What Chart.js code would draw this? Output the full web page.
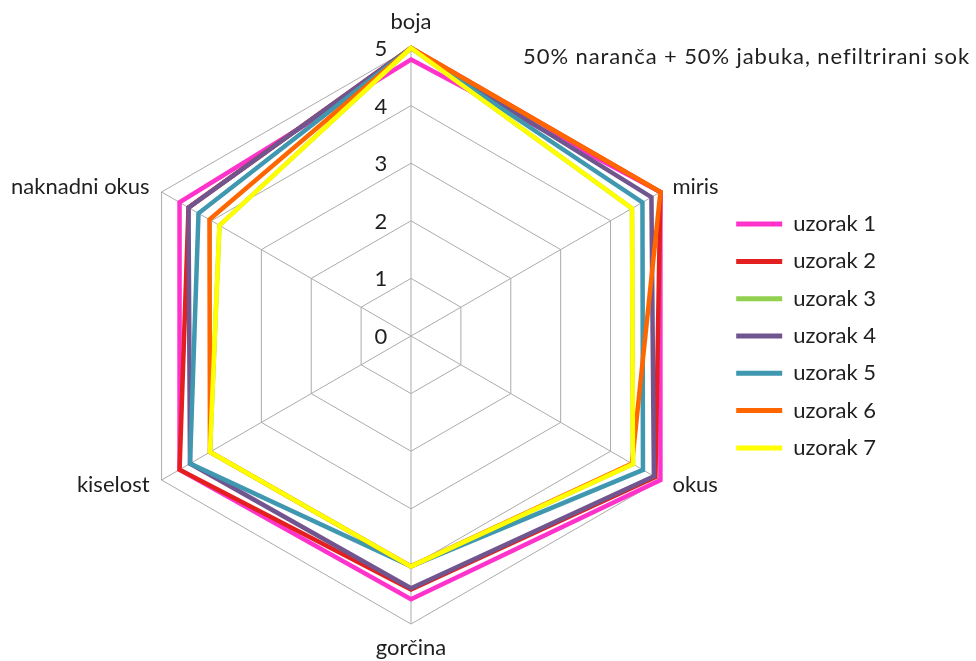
<!DOCTYPE html>
<html>
<head>
<meta charset="utf-8">
<script src="https://cdn.jsdelivr.net/npm/chart.js@4.4.1/dist/chart.umd.min.js"></script>
<style>
  html, body { margin: 0; padding: 0; background: #ffffff; }
  #wrap { position: relative; width: 976px; height: 661px; }
</style>
</head>
<body>
<div id="wrap"><canvas id="c" width="976" height="661"></canvas></div>
<script>
const chartTitle = '50% naranča + 50% jabuka, nefiltrirani sok';
const categories = ['boja', 'miris', 'okus', 'gorčina', 'kiselost', 'naknadni okus'];
const seriesNames = ['uzorak 1', 'uzorak 2', 'uzorak 3', 'uzorak 4', 'uzorak 5', 'uzorak 6', 'uzorak 7'];
const uzorak1 = [4.8, 5.0, 5.0, 4.57, 4.64, 4.64];
const uzorak2 = [5.0, 5.0, 4.9, 4.4, 4.64, 4.46];
const uzorak3 = [5.0, 4.43, 4.45, 4.0, 4.03, 3.84];
const uzorak4 = [5.0, 4.82, 4.87, 4.38, 4.43, 4.46];
const uzorak5 = [5.0, 4.64, 4.65, 4.0, 4.43, 4.26];
const uzorak6 = [5.0, 5.0, 4.43, 4.0, 4.03, 4.04];
const uzorak7 = [5.0, 4.43, 4.45, 4.0, 4.03, 3.84];
const tickValues = [0, 1, 2, 3, 4, 5];
const tickLabels = ['0', '1', '2', '3', '4', '5'];

const seriesValues = [uzorak1, uzorak2, uzorak3, uzorak4, uzorak5, uzorak6, uzorak7];
const colors = ['#ff33cc', '#e3201f', '#92d050', '#70558f', '#3f97b0', '#ff6600', '#ffff00'];

const FONT = 'Lato, "Open Sans", sans-serif';
const TEXT = '#1f1f1f';

const datasets = seriesValues.map((vals, i) => ({
  label: seriesNames[i],
  data: vals,
  borderColor: colors[i],
  backgroundColor: colors[i],
  borderWidth: 4.5,
  borderJoinStyle: 'miter',
  fill: false,
  tension: 0,
  pointRadius: 0,
  pointHoverRadius: 0,
  pointBorderWidth: 5,
  order: seriesValues.length - 1 - i
}));

const textPlugin = {
  id: 'textPlugin',
  afterDraw(chart) {
    const s = chart.scales.r;
    const ctx = chart.ctx;
    ctx.save();
    ctx.fillStyle = TEXT;
    ctx.font = '22px ' + FONT;
    // tick labels, left of the vertical axis
    ctx.textAlign = 'center';
    ctx.textBaseline = 'middle';
    tickValues.forEach((v, i) => {
      const d = s.getDistanceFromCenterForValue(v);
      ctx.fillText(tickLabels[i], s.xCenter - 30, s.yCenter - d + 1);
    });
    // category labels
    categories.forEach((c, i) => {
      const p = s.getPointPosition(i, s.drawingArea);
      const dx = p.x - s.xCenter;
      const dy = p.y - s.yCenter;
      if (Math.abs(dx) < 1) {
        ctx.textAlign = 'center';
        ctx.textBaseline = 'middle';
        ctx.fillText(c, p.x, dy < 0 ? p.y - 26 : p.y + 24);
      } else {
        ctx.textAlign = dx > 0 ? 'left' : 'right';
        ctx.textBaseline = 'middle';
        ctx.fillText(c, p.x + (dx > 0 ? 12 : -12), p.y + (dy < 0 ? -5 : 5));
      }
    });
    // title
    ctx.textAlign = 'right';
    ctx.textBaseline = 'middle';
    try { ctx.letterSpacing = '0.9px'; } catch (e) {}
    ctx.fillText(chartTitle, 970, 57);
    ctx.restore();
  }
};

new Chart(document.getElementById('c'), {
  type: 'radar',
  data: { labels: categories, datasets },
  options: {
    responsive: false,
    animation: false,
    layout: { padding: { top: 11, bottom: 0, right: 90 } },
    scales: {
      r: {
        min: 0,
        max: 5,
        ticks: { stepSize: 1, display: false },
        grid: { color: '#ababab', lineWidth: 1 },
        angleLines: { color: '#ababab', lineWidth: 1 },
        pointLabels: { display: false },
        afterFit(scale) {
          scale.xCenter = 411;
          scale.yCenter = 336;
          scale.drawingArea = 288;
        }
      }
    },
    plugins: {
      legend: {
        position: 'right',
        align: 'center',
        labels: {
          usePointStyle: true,
          pointStyle: 'line',
          pointStyleWidth: 46,
          padding: 15.3,
          color: TEXT,
          font: { family: FONT, size: 22 },
          sort: (a, b) => a.datasetIndex - b.datasetIndex
        }
      },
      tooltip: { enabled: false },
      title: { display: false }
    }
  },
  plugins: [textPlugin]
});
</script>
</body>
</html>
